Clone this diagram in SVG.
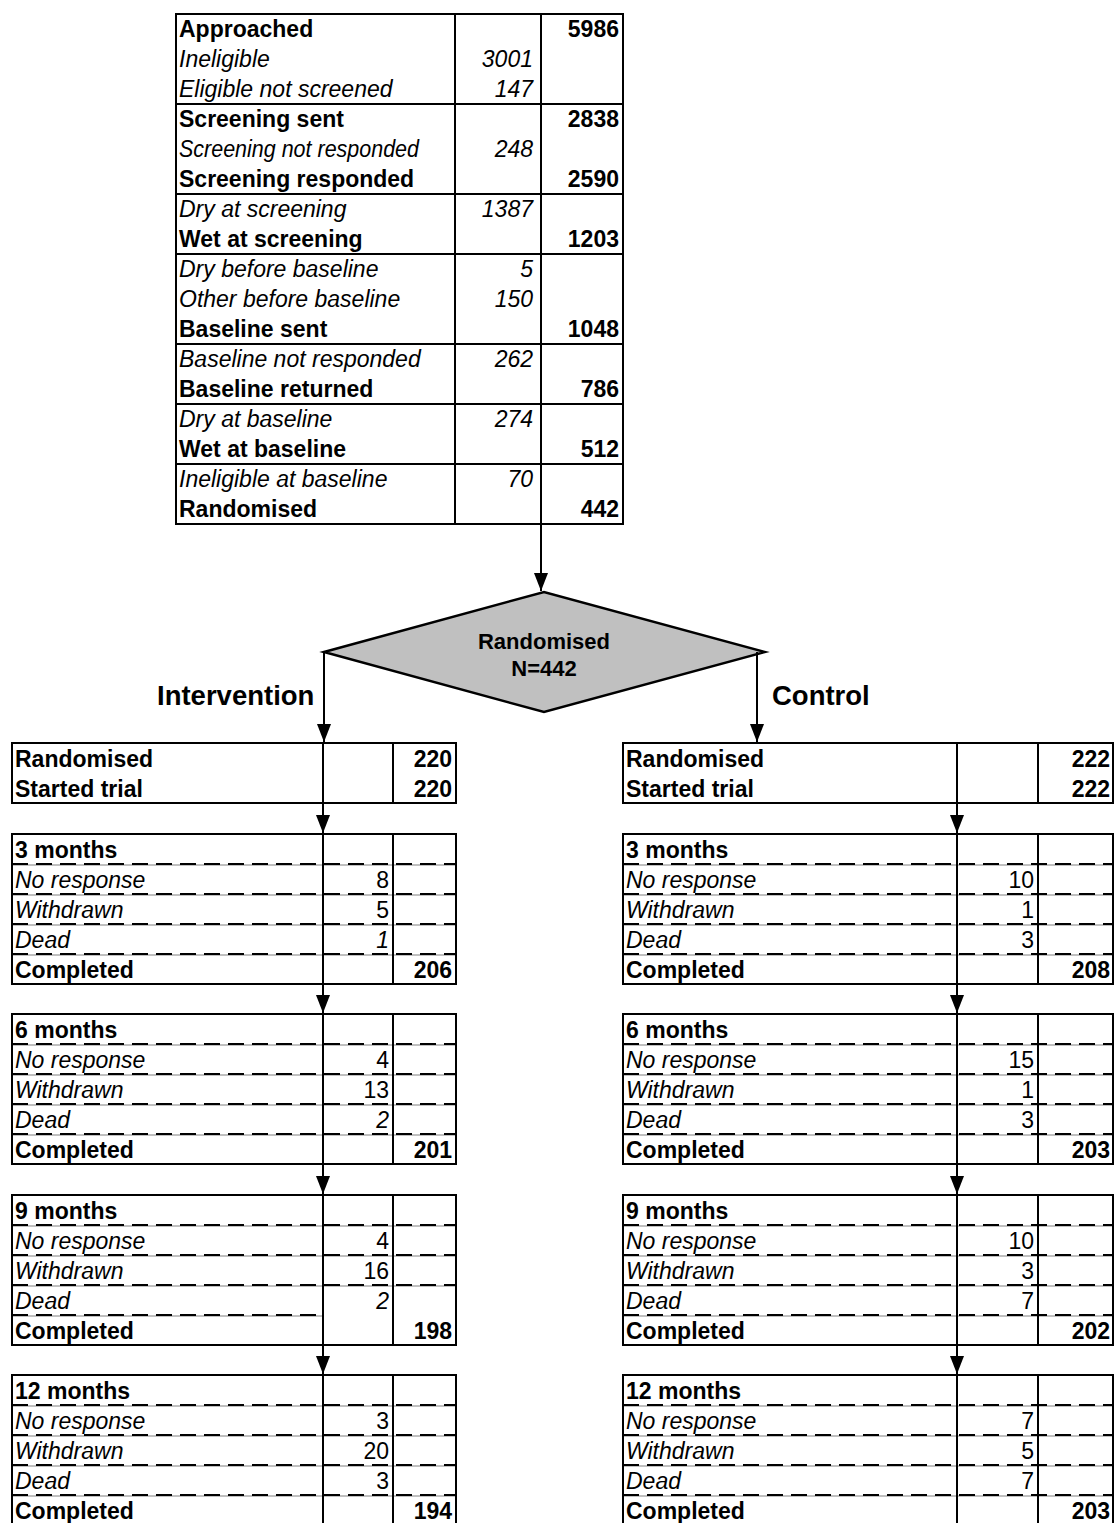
<svg xmlns="http://www.w3.org/2000/svg" width="1115" height="1523" viewBox="0 0 1115 1523">
<style>
.b{font-family:"Liberation Sans",Arial,sans-serif;font-weight:bold;font-size:23px;fill:#000}
.i{font-family:"Liberation Sans",Arial,sans-serif;font-style:italic;font-size:23px;fill:#000}
.r{font-family:"Liberation Sans",Arial,sans-serif;font-size:23px;fill:#000}
.e{text-anchor:end}
.frame{fill:none;stroke:#000;stroke-width:2}
.ln{stroke:#000;stroke-width:2}
.dg{stroke:#c0c0c0;stroke-width:2}
.dk{stroke:#000;stroke-width:2;stroke-dasharray:16 8}
.lbl{font-family:"Liberation Sans",Arial,sans-serif;font-weight:bold;font-size:27.5px;fill:#000}
.dt{font-family:"Liberation Sans",Arial,sans-serif;font-weight:bold;font-size:22px;fill:#000;text-anchor:middle}
.cn{stroke:#000;stroke-width:2;fill:none;marker-end:url(#ah)}
</style>
<defs>
<marker id="ah" markerUnits="userSpaceOnUse" markerWidth="18" markerHeight="14" refX="18" refY="7" orient="auto">
<path d="M0,0 L18,7 L0,14 z" fill="#000"/>
</marker>
</defs>
<rect width="1115" height="1523" fill="#fff"/>

<g id="screening">
<rect class="frame" x="176" y="14" width="447" height="510"/>
<line class="ln" x1="455" y1="14" x2="455" y2="524"/>
<line class="ln" x1="541" y1="14" x2="541" y2="524"/>
<line class="ln" x1="176" y1="104" x2="623" y2="104"/>
<line class="ln" x1="176" y1="194" x2="623" y2="194"/>
<line class="ln" x1="176" y1="254" x2="623" y2="254"/>
<line class="ln" x1="176" y1="344" x2="623" y2="344"/>
<line class="ln" x1="176" y1="404" x2="623" y2="404"/>
<line class="ln" x1="176" y1="464" x2="623" y2="464"/>
<text class="b" x="179" y="37">Approached</text><text class="b e" x="619" y="37">5986</text>
<text class="i" x="179" y="67">Ineligible</text><text class="i e" x="533" y="67">3001</text>
<text class="i" x="179" y="97">Eligible not screened</text><text class="i e" x="533" y="97">147</text>
<text class="b" x="179" y="127">Screening sent</text><text class="b e" x="619" y="127">2838</text>
<text class="i" x="179" y="157" textLength="240" lengthAdjust="spacingAndGlyphs">Screening not responded</text><text class="i e" x="533" y="157">248</text>
<text class="b" x="179" y="187">Screening responded</text><text class="b e" x="619" y="187">2590</text>
<text class="i" x="179" y="217">Dry at screening</text><text class="i e" x="533" y="217">1387</text>
<text class="b" x="179" y="247">Wet at screening</text><text class="b e" x="619" y="247">1203</text>
<text class="i" x="179" y="277">Dry before baseline</text><text class="i e" x="533" y="277">5</text>
<text class="i" x="179" y="307">Other before baseline</text><text class="i e" x="533" y="307">150</text>
<text class="b" x="179" y="337">Baseline sent</text><text class="b e" x="619" y="337">1048</text>
<text class="i" x="179" y="367">Baseline not responded</text><text class="i e" x="533" y="367">262</text>
<text class="b" x="179" y="397">Baseline returned</text><text class="b e" x="619" y="397">786</text>
<text class="i" x="179" y="427">Dry at baseline</text><text class="i e" x="533" y="427">274</text>
<text class="b" x="179" y="457">Wet at baseline</text><text class="b e" x="619" y="457">512</text>
<text class="i" x="179" y="487">Ineligible at baseline</text><text class="i e" x="533" y="487">70</text>
<text class="b" x="179" y="517">Randomised</text><text class="b e" x="619" y="517">442</text>
</g>

<g id="randomised">
<polygon points="324,652 544,592 765,652 544,712" fill="#c0c0c0" stroke="#000" stroke-width="2.5" stroke-linejoin="miter"/>
<text class="dt" x="544" y="649">Randomised</text>
<text class="dt" x="544" y="676">N=442</text>
</g>

<g id="label-intervention"><text class="lbl" x="157" y="705">Intervention</text></g>
<g id="label-control"><text class="lbl" x="772" y="705">Control</text></g>

<!-- Intervention arm -->
<g id="int-start">
<rect class="frame" x="12" y="743" width="444" height="60"/>
<line class="ln" x1="323" y1="743" x2="323" y2="803"/>
<line class="ln" x1="393" y1="743" x2="393" y2="803"/>
<text class="b" x="15" y="767">Randomised</text><text class="b e" x="452" y="767">220</text>
<text class="b" x="15" y="797">Started trial</text><text class="b e" x="452" y="797">220</text>
</g>

<g id="int-3m">
<line class="dg" x1="12" y1="865" x2="456" y2="865"/><line class="dk" x1="12" y1="864" x2="456" y2="864"/>
<line class="dg" x1="12" y1="895" x2="456" y2="895"/><line class="dk" x1="12" y1="894" x2="456" y2="894"/>
<line class="dg" x1="12" y1="925" x2="456" y2="925"/><line class="dk" x1="12" y1="924" x2="456" y2="924"/>
<line class="dg" x1="12" y1="955" x2="456" y2="955"/><line class="dk" x1="12" y1="954" x2="456" y2="954"/>
<rect class="frame" x="12" y="834" width="444" height="150"/>
<line class="ln" x1="323" y1="834" x2="323" y2="984"/>
<line class="ln" x1="393" y1="834" x2="393" y2="984"/>
<text class="b" x="15" y="858">3 months</text>
<text class="i" x="15" y="888">No response</text><text class="r e" x="389" y="888">8</text>
<text class="i" x="15" y="918">Withdrawn</text><text class="r e" x="389" y="918">5</text>
<text class="i" x="15" y="948">Dead</text><text class="i e" x="389" y="948">1</text>
<text class="b" x="15" y="978">Completed</text><text class="b e" x="452" y="978">206</text>
</g>

<g id="int-6m">
<line class="dg" x1="12" y1="1045" x2="456" y2="1045"/><line class="dk" x1="12" y1="1044" x2="456" y2="1044"/>
<line class="dg" x1="12" y1="1075" x2="456" y2="1075"/><line class="dk" x1="12" y1="1074" x2="456" y2="1074"/>
<line class="dg" x1="12" y1="1105" x2="456" y2="1105"/><line class="dk" x1="12" y1="1104" x2="456" y2="1104"/>
<line class="dg" x1="12" y1="1135" x2="456" y2="1135"/><line class="dk" x1="12" y1="1134" x2="456" y2="1134"/>
<rect class="frame" x="12" y="1014" width="444" height="150"/>
<line class="ln" x1="323" y1="1014" x2="323" y2="1164"/>
<line class="ln" x1="393" y1="1014" x2="393" y2="1164"/>
<text class="b" x="15" y="1038">6 months</text>
<text class="i" x="15" y="1068">No response</text><text class="r e" x="389" y="1068">4</text>
<text class="i" x="15" y="1098">Withdrawn</text><text class="r e" x="389" y="1098">13</text>
<text class="i" x="15" y="1128">Dead</text><text class="i e" x="389" y="1128">2</text>
<text class="b" x="15" y="1158">Completed</text><text class="b e" x="452" y="1158">201</text>
</g>

<g id="int-9m">
<line class="dg" x1="12" y1="1226" x2="456" y2="1226"/><line class="dk" x1="12" y1="1225" x2="456" y2="1225"/>
<line class="dg" x1="12" y1="1256" x2="456" y2="1256"/><line class="dk" x1="12" y1="1255" x2="456" y2="1255"/>
<line class="dg" x1="12" y1="1286" x2="456" y2="1286"/><line class="dk" x1="12" y1="1285" x2="456" y2="1285"/>
<line class="dg" x1="12" y1="1316" x2="323" y2="1316"/><line class="dk" x1="12" y1="1315" x2="323" y2="1315"/>
<rect class="frame" x="12" y="1195" width="444" height="150"/>
<line class="ln" x1="323" y1="1195" x2="323" y2="1345"/>
<line class="ln" x1="393" y1="1195" x2="393" y2="1345"/>
<text class="b" x="15" y="1219">9 months</text>
<text class="i" x="15" y="1249">No response</text><text class="r e" x="389" y="1249">4</text>
<text class="i" x="15" y="1279">Withdrawn</text><text class="r e" x="389" y="1279">16</text>
<text class="i" x="15" y="1309">Dead</text><text class="i e" x="389" y="1309">2</text>
<text class="b" x="15" y="1339">Completed</text><text class="b e" x="452" y="1339">198</text>
</g>

<g id="int-12m">
<line class="dg" x1="12" y1="1406" x2="456" y2="1406"/><line class="dk" x1="12" y1="1405" x2="456" y2="1405"/>
<line class="dg" x1="12" y1="1436" x2="456" y2="1436"/><line class="dk" x1="12" y1="1435" x2="456" y2="1435"/>
<line class="dg" x1="12" y1="1466" x2="456" y2="1466"/><line class="dk" x1="12" y1="1465" x2="456" y2="1465"/>
<line class="dg" x1="12" y1="1496" x2="456" y2="1496"/><line class="dk" x1="12" y1="1495" x2="456" y2="1495"/>
<rect class="frame" x="12" y="1375" width="444" height="150"/>
<line class="ln" x1="323" y1="1375" x2="323" y2="1525"/>
<line class="ln" x1="393" y1="1375" x2="393" y2="1525"/>
<text class="b" x="15" y="1399">12 months</text>
<text class="i" x="15" y="1429">No response</text><text class="r e" x="389" y="1429">3</text>
<text class="i" x="15" y="1459">Withdrawn</text><text class="r e" x="389" y="1459">20</text>
<text class="i" x="15" y="1489">Dead</text><text class="r e" x="389" y="1489">3</text>
<text class="b" x="15" y="1519">Completed</text><text class="b e" x="452" y="1519">194</text>
</g>

<!-- Control arm -->
<g id="ctl-start">
<rect class="frame" x="623" y="743" width="490" height="60"/>
<line class="ln" x1="957" y1="743" x2="957" y2="803"/>
<line class="ln" x1="1038" y1="743" x2="1038" y2="803"/>
<text class="b" x="626" y="767">Randomised</text><text class="b e" x="1110" y="767">222</text>
<text class="b" x="626" y="797">Started trial</text><text class="b e" x="1110" y="797">222</text>
</g>

<g id="ctl-3m">
<line class="dg" x1="623" y1="865" x2="1113" y2="865"/><line class="dk" x1="623" y1="864" x2="1113" y2="864"/>
<line class="dg" x1="623" y1="895" x2="1113" y2="895"/><line class="dk" x1="623" y1="894" x2="1113" y2="894"/>
<line class="dg" x1="623" y1="925" x2="1113" y2="925"/><line class="dk" x1="623" y1="924" x2="1113" y2="924"/>
<line class="dg" x1="623" y1="955" x2="1113" y2="955"/><line class="dk" x1="623" y1="954" x2="1113" y2="954"/>
<rect class="frame" x="623" y="834" width="490" height="150"/>
<line class="ln" x1="957" y1="834" x2="957" y2="984"/>
<line class="ln" x1="1038" y1="834" x2="1038" y2="984"/>
<text class="b" x="626" y="858">3 months</text>
<text class="i" x="626" y="888">No response</text><text class="r e" x="1034" y="888">10</text>
<text class="i" x="626" y="918">Withdrawn</text><text class="r e" x="1034" y="918">1</text>
<text class="i" x="626" y="948">Dead</text><text class="r e" x="1034" y="948">3</text>
<text class="b" x="626" y="978">Completed</text><text class="b e" x="1110" y="978">208</text>
</g>

<g id="ctl-6m">
<line class="dg" x1="623" y1="1045" x2="1113" y2="1045"/><line class="dk" x1="623" y1="1044" x2="1113" y2="1044"/>
<line class="dg" x1="623" y1="1075" x2="1113" y2="1075"/><line class="dk" x1="623" y1="1074" x2="1113" y2="1074"/>
<line class="dg" x1="623" y1="1105" x2="1113" y2="1105"/><line class="dk" x1="623" y1="1104" x2="1113" y2="1104"/>
<line class="dg" x1="623" y1="1135" x2="1113" y2="1135"/><line class="dk" x1="623" y1="1134" x2="1113" y2="1134"/>
<rect class="frame" x="623" y="1014" width="490" height="150"/>
<line class="ln" x1="957" y1="1014" x2="957" y2="1164"/>
<line class="ln" x1="1038" y1="1014" x2="1038" y2="1164"/>
<text class="b" x="626" y="1038">6 months</text>
<text class="i" x="626" y="1068">No response</text><text class="r e" x="1034" y="1068">15</text>
<text class="i" x="626" y="1098">Withdrawn</text><text class="r e" x="1034" y="1098">1</text>
<text class="i" x="626" y="1128">Dead</text><text class="r e" x="1034" y="1128">3</text>
<text class="b" x="626" y="1158">Completed</text><text class="b e" x="1110" y="1158">203</text>
</g>

<g id="ctl-9m">
<line class="dg" x1="623" y1="1226" x2="1113" y2="1226"/><line class="dk" x1="623" y1="1225" x2="1113" y2="1225"/>
<line class="dg" x1="623" y1="1256" x2="1113" y2="1256"/><line class="dk" x1="623" y1="1255" x2="1113" y2="1255"/>
<line class="dg" x1="623" y1="1286" x2="1113" y2="1286"/><line class="dk" x1="623" y1="1285" x2="1113" y2="1285"/>
<line class="dg" x1="623" y1="1316" x2="1113" y2="1316"/><line class="dk" x1="623" y1="1315" x2="1113" y2="1315"/>
<rect class="frame" x="623" y="1195" width="490" height="150"/>
<line class="ln" x1="957" y1="1195" x2="957" y2="1345"/>
<line class="ln" x1="1038" y1="1195" x2="1038" y2="1345"/>
<text class="b" x="626" y="1219">9 months</text>
<text class="i" x="626" y="1249">No response</text><text class="r e" x="1034" y="1249">10</text>
<text class="i" x="626" y="1279">Withdrawn</text><text class="r e" x="1034" y="1279">3</text>
<text class="i" x="626" y="1309">Dead</text><text class="r e" x="1034" y="1309">7</text>
<text class="b" x="626" y="1339">Completed</text><text class="b e" x="1110" y="1339">202</text>
</g>

<g id="ctl-12m">
<line class="dg" x1="623" y1="1406" x2="1113" y2="1406"/><line class="dk" x1="623" y1="1405" x2="1113" y2="1405"/>
<line class="dg" x1="623" y1="1436" x2="1113" y2="1436"/><line class="dk" x1="623" y1="1435" x2="1113" y2="1435"/>
<line class="dg" x1="623" y1="1466" x2="1113" y2="1466"/><line class="dk" x1="623" y1="1465" x2="1113" y2="1465"/>
<line class="dg" x1="623" y1="1496" x2="1113" y2="1496"/><line class="dk" x1="623" y1="1495" x2="1113" y2="1495"/>
<rect class="frame" x="623" y="1375" width="490" height="150"/>
<line class="ln" x1="957" y1="1375" x2="957" y2="1525"/>
<line class="ln" x1="1038" y1="1375" x2="1038" y2="1525"/>
<text class="b" x="626" y="1399">12 months</text>
<text class="i" x="626" y="1429">No response</text><text class="r e" x="1034" y="1429">7</text>
<text class="i" x="626" y="1459">Withdrawn</text><text class="r e" x="1034" y="1459">5</text>
<text class="i" x="626" y="1489">Dead</text><text class="r e" x="1034" y="1489">7</text>
<text class="b" x="626" y="1519">Completed</text><text class="b e" x="1110" y="1519">203</text>
</g>

<g id="connectors">
<line class="cn" x1="541" y1="525" x2="541" y2="591"/>
<line class="cn" x1="324" y1="652" x2="324" y2="742"/>
<line class="cn" x1="757" y1="652" x2="757" y2="742"/>
<line class="cn" x1="323" y1="803" x2="323" y2="833"/>
<line class="cn" x1="323" y1="984" x2="323" y2="1013"/>
<line class="cn" x1="323" y1="1164" x2="323" y2="1194"/>
<line class="cn" x1="323" y1="1345" x2="323" y2="1374"/>
<line class="cn" x1="957" y1="803" x2="957" y2="833"/>
<line class="cn" x1="957" y1="984" x2="957" y2="1013"/>
<line class="cn" x1="957" y1="1164" x2="957" y2="1194"/>
<line class="cn" x1="957" y1="1345" x2="957" y2="1374"/>
</g>
</svg>
